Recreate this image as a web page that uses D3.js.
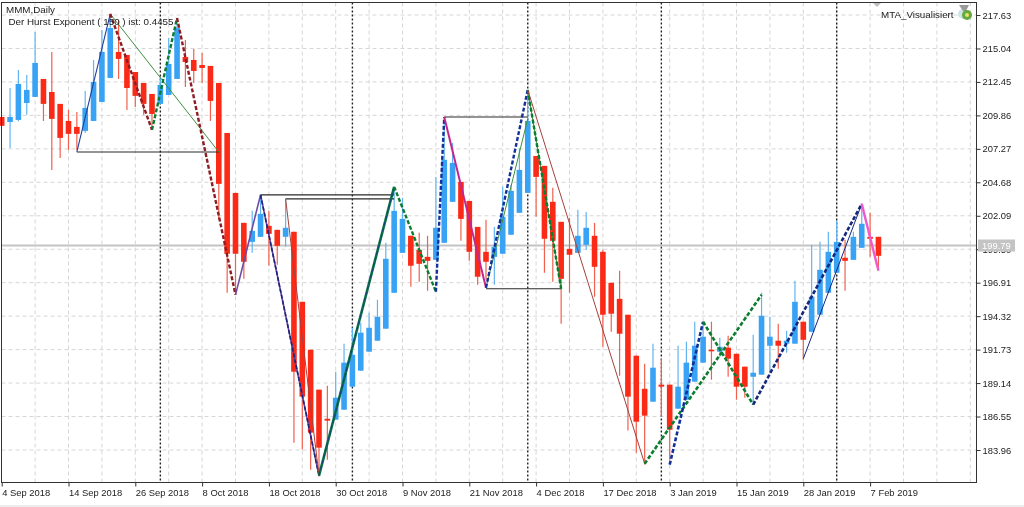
<!DOCTYPE html>
<html>
<head>
<meta charset="utf-8">
<style>
  html, body { margin: 0; padding: 0; background: #fff; }
  svg { display: block; filter: blur(0.35px); }
  text { font-family: "Liberation Sans", sans-serif; fill: #222; }
  .axis text { font-size: 9.4px; }
  .axis path { display: none; }
  .axis line { stroke: #333; }
</style>
<script src="https://cdn.jsdelivr.net/npm/d3@7"></script>
</head>
<body>
<div id="chart"></div>
<script>
// Daily candles, one entry per bar
const opens = [209.74,209.35,209.51,210.82,211.29,212.68,211.67,210.75,209.43,208.97,208.66,209.43,210.90,212.76,214.77,214.54,213.22,212.37,211.52,210.75,211.44,212.68,214.38,214.15,213.76,213.69,212.37,208.50,203.86,201.54,200.07,200.46,201.31,201.00,200.46,200.85,195.43,191.72,188.63,186.38,186.31,187.08,188.86,190.10,191.57,192.42,193.35,196.13,199.22,200.54,199.45,198.91,198.68,200.00,203.17,204.71,203.24,201.23,199.30,198.91,199.15,200.62,202.32,203.86,206.72,205.95,203.17,201.62,199.53,199.22,199.84,200.54,199.30,196.90,195.66,194.43,191.26,188.70,187.70,189.02,189.02,187.16,187.85,189.25,190.72,191.72,191.57,191.88,191.41,190.41,189.63,189.79,192.03,192.42,192.19,192.19,193.89,193.11,194.43,196.13,197.68,198.84,198.68,199.61,200.46,200.46];
const highs = [209.74,211.98,213.38,212.99,216.32,212.68,214.77,210.75,210.28,210.13,211.75,214.15,216.47,217.71,217.24,214.54,213.22,212.37,211.52,212.83,215.85,217.40,215.70,215.00,214.69,213.69,212.37,208.50,203.86,201.54,202.47,203.63,202.47,201.00,203.32,200.85,195.43,191.72,188.63,188.94,190.02,192.19,193.42,193.81,194.58,195.59,200.00,204.33,203.48,200.54,200.77,200.54,205.10,209.74,207.73,204.71,203.24,201.23,201.78,201.23,204.33,204.48,207.34,211.83,206.72,205.95,204.25,201.62,201.93,202.55,202.39,201.54,199.46,196.90,197.83,194.43,191.26,190.64,192.19,191.03,189.02,192.03,192.34,193.89,193.89,193.89,192.65,192.80,191.41,190.41,192.88,196.13,194.27,193.73,193.19,197.06,193.89,199.84,200.07,200.85,201.70,200.23,200.85,203.01,202.32,200.46];
const lows = [209.05,207.34,209.40,209.90,211.29,209.43,205.64,206.57,207.19,207.19,208.50,209.43,210.90,212.76,212.68,210.28,210.51,209.90,208.74,210.75,211.44,212.68,212.06,212.37,212.37,209.43,201.78,196.13,195.97,197.21,199.22,200.46,198.22,198.30,199.69,184.53,183.99,182.44,181.90,183.21,186.31,187.08,188.86,190.10,191.57,192.42,193.35,196.13,199.22,196.59,196.98,196.28,198.68,200.00,203.17,200.15,198.60,196.75,197.13,196.75,199.15,200.62,202.32,203.86,202.01,197.68,196.98,193.73,196.13,199.22,199.45,195.82,191.95,193.11,189.71,185.46,183.75,182.83,187.70,186.54,183.21,187.16,187.85,189.25,190.72,189.40,191.18,189.63,187.85,188.01,187.62,189.79,189.94,190.25,191.49,192.19,190.95,193.11,194.43,196.13,197.68,196.28,198.68,199.61,198.91,197.91];
const closes = [209.05,209.74,212.29,211.83,213.92,210.75,209.59,208.12,208.43,208.43,210.44,212.45,214.77,216.62,214.23,211.98,211.37,210.75,209.97,212.22,213.84,216.62,213.99,213.30,213.53,210.98,204.56,199.15,199.15,198.53,200.92,202.24,200.69,199.76,201.16,190.02,188.09,185.30,184.14,186.23,188.01,190.72,191.33,193.04,193.42,194.27,198.76,202.47,201.85,198.22,198.37,198.60,201.16,206.42,206.18,201.85,199.30,197.37,198.53,199.69,202.01,204.02,205.64,209.43,205.10,200.31,200.15,197.21,199.07,200.54,201.16,198.14,194.43,194.51,192.96,188.09,186.15,186.62,190.33,188.86,185.53,188.86,190.72,192.03,192.73,191.64,191.95,191.03,188.86,188.86,189.94,194.35,192.73,192.03,192.42,195.43,192.49,195.82,197.91,199.30,200.07,198.60,200.46,201.47,200.31,198.99];

const priceTicks = [217.63,215.04,212.45,209.86,207.27,204.68,202.09,199.50,196.91,194.32,191.73,189.14,186.55,183.96];
const dateLabels = ['4 Sep 2018','14 Sep 2018','26 Sep 2018','8 Oct 2018','18 Oct 2018','30 Oct 2018','9 Nov 2018','21 Nov 2018','4 Dec 2018','17 Dec 2018','3 Jan 2019','15 Jan 2019','28 Jan 2019','7 Feb 2019'];
const monthStarts = [19,42,63,79,100]; // bar index of the first bar of each month
const lastPrice = 199.79;

// Zigzag legs as [bar index, price]
const legA = [[9,207.03],[13,217.71]];
const legB = [[13,217.71],[18,208.74]];
const legC = [[18,208.74],[21,217.40]];
const legD = [[21,217.40],[28,195.97]];
const legE = [[13,217.71],[26,207.03]];
const legF = [[28,195.97],[31,203.71]];
const legG = [[31,203.71],[38,181.98]];
const legH = [[34,203.40],[38,181.98]];
const legI = [[38,181.98],[47,204.33]];
const legJ = [[47,204.33],[52,196.21]];
const legK = [[52,196.21],[53,209.74]];
const legL = [[53,209.74],[58,196.52]];
const legM = [[58,196.52],[63,211.83]];
const legN = [[58,196.52],[63,209.60]];
const legO = [[63,211.83],[67,196.44]];
const legP = [[63,211.83],[77,182.90]];
const legQ = [[77,182.90],[91,195.97]];
const legR = [[80,182.83],[84,193.89]];
const legS = [[84,193.89],[90,187.47]];
const legT = [[90,187.47],[103,203.01]];
const legU = [[96,191.03],[103,203.01]];
const legV = [[103,203.01],[105,197.83]];

// Flat levels
const flat1 = [[9,207.03],[26,207.03]];
const flat2 = [[31,203.71],[47,203.71]];
const flat3 = [[34,203.40],[47,203.40]];
const flat4 = [[53,209.74],[63,209.74]];
const flat5 = [[58,196.44],[67,196.44]];

const width = 1024;
const height = 507;
const barStep = 8.35;
const plot = { left: 1.5, top: 2.5, right: 976.5, bottom: 482.5 };

const svg = d3.select('#chart')
    .append('svg')
    .attr('width', width)
    .attr('height', height);

// bottom strip of the window
svg.append('rect')
    .attr('x', 0).attr('y', 505)
    .attr('width', width).attr('height', 2)
    .attr('fill', '#ececec');

// Scales, the bar axis carries on past the last bar to the right edge
const lastGridBar = 116;
const xScale = d3.scaleLinear()
    .domain([0, lastGridBar])
    .range([1.7, 1.7 + lastGridBar * barStep]);
const yScale = d3.scaleLinear()
    .domain([183.96, 217.63])
    .range([450, 15]);

// Grid
const gridBars = d3.range(4, lastGridBar + 1, 4);
svg.append('g').selectAll('line')
    .data(gridBars)
    .enter().append('line')
    .attr('x1', d => xScale(d)).attr('x2', d => xScale(d))
    .attr('y1', plot.top).attr('y2', plot.bottom)
    .attr('stroke', '#d6d6d6')
    .attr('stroke-dasharray', '4,3');
svg.append('g').selectAll('line')
    .data(priceTicks)
    .enter().append('line')
    .attr('x1', plot.left).attr('x2', plot.right)
    .attr('y1', d => yScale(d)).attr('y2', d => yScale(d))
    .attr('stroke', '#d6d6d6')
    .attr('stroke-dasharray', '4,3');

// Month separators
svg.append('g').selectAll('line')
    .data(monthStarts)
    .enter().append('line')
    .attr('x1', d => xScale(d)).attr('x2', d => xScale(d))
    .attr('y1', plot.top).attr('y2', plot.bottom)
    .attr('stroke', '#222')
    .attr('stroke-width', 1.4)
    .attr('stroke-dasharray', '2,2');

// Last price line
svg.append('line')
    .attr('x1', plot.left).attr('x2', plot.right)
    .attr('y1', yScale(lastPrice)).attr('y2', yScale(lastPrice))
    .attr('stroke', '#c4c4c4')
    .attr('stroke-width', 2);

// Candles
const bars = d3.range(opens.length);
const isUp = i => closes[i] >= opens[i];
const candles = svg.append('g');
candles.selectAll('.wick')
    .data(bars)
    .enter().append('line')
    .attr('class', 'wick')
    .attr('x1', d => xScale(d)).attr('x2', d => xScale(d))
    .attr('y1', d => yScale(highs[d])).attr('y2', d => yScale(lows[d]))
    .attr('stroke', d => isUp(d) ? '#62b5f2' : '#f2604c')
    .attr('stroke-width', 1.2);
candles.selectAll('.body')
    .data(bars)
    .enter().append('rect')
    .attr('class', 'body')
    .attr('x', d => xScale(d) - 2.8)
    .attr('y', d => yScale(Math.max(opens[d], closes[d])))
    .attr('width', 5.6)
    .attr('height', d => Math.max(1.6, Math.abs(yScale(opens[d]) - yScale(closes[d]))))
    .attr('fill', d => isUp(d) ? '#38a2f4' : '#fb2a17');

// Zigzag lines
const line = d3.line().x(d => xScale(d[0])).y(d => yScale(d[1]));
function drawLeg(points, color, lineWidth, dash) {
    svg.append('path')
        .attr('d', line(points))
        .attr('fill', 'none')
        .attr('stroke', color)
        .attr('stroke-width', lineWidth)
        .attr('stroke-dasharray', dash || null);
}

[flat1, flat2, flat3, flat4, flat5].forEach(d => drawLeg(d, '#2a2a2a', 1.1));

const thick = '4,2';
drawLeg(legA, '#1f3f9e', 1.1);
drawLeg(legE, '#3f8f3f', 1);
drawLeg(legB, '#8e1c22', 2.4, thick);
drawLeg(legC, '#0b7d2e', 2.4, thick);
drawLeg(legD, '#8e1c22', 2.4, thick);
drawLeg(legF, '#6f4aa5', 1.6);
drawLeg(legG, '#6f3f9f', 1.6);
drawLeg(legG, '#14287e', 1.6, thick);
drawLeg(legH, '#a5403c', 1);
drawLeg(legI, '#0b7048', 2.6);
drawLeg(legI, '#14407e', 1, thick);
drawLeg(legJ, '#0b7d2e', 2.4, thick);
drawLeg(legK, '#14309a', 2.4, thick);
drawLeg(legL, '#c2278f', 2);
drawLeg(legN, '#3f8f3f', 1);
drawLeg(legM, '#14309a', 2.4, thick);
drawLeg(legO, '#3f8f3f', 1);
drawLeg(legO, '#0b7d2e', 2.4, thick);
drawLeg(legP, '#a5403c', 1);
drawLeg(legQ, '#0b7d2e', 2.6, thick);
drawLeg(legR, '#14309a', 2.6, thick);
drawLeg(legS, '#0b7d2e', 2.6, thick);
drawLeg(legT, '#14287e', 2.6, thick);
drawLeg(legU, '#14287e', 1);
drawLeg(legV, '#ee5ccc', 2.4);

// Axes
svg.append('g')
    .attr('class', 'axis')
    .attr('transform', `translate(${plot.right}, 0)`)
    .call(d3.axisRight(yScale)
        .tickValues(priceTicks)
        .tickSize(4)
        .tickPadding(2)
        .tickFormat(d3.format('.2f')));

const dateBars = dateLabels.map((d, i) => i * 8);
const xAxis = svg.append('g')
    .attr('class', 'axis')
    .attr('transform', `translate(0, ${plot.bottom})`)
    .call(d3.axisBottom(xScale)
        .tickValues(dateBars)
        .tickSize(4)
        .tickPadding(3)
        .tickFormat((d, i) => dateLabels[i]));
xAxis.selectAll('text')
    .attr('text-anchor', 'start');

// Frame
svg.append('rect')
    .attr('x', plot.left).attr('y', plot.top)
    .attr('width', plot.right - plot.left)
    .attr('height', plot.bottom - plot.top)
    .attr('fill', 'none')
    .attr('stroke', '#333');

// Last price tag
svg.append('rect')
    .attr('x', 978).attr('y', yScale(lastPrice) - 6)
    .attr('width', 37).attr('height', 12)
    .attr('fill', '#c4c4c4');
svg.append('text')
    .attr('x', 982).attr('y', yScale(lastPrice) + 3.5)
    .style('font-size', '9.4px')
    .style('fill', '#fff')
    .text(d3.format('.2f')(lastPrice));

// Labels
svg.append('text').attr('x', 6).attr('y', 13)
    .style('font-size', '9.8px')
    .text('MMM,Daily');
svg.append('text').attr('x', 8.5).attr('y', 25)
    .style('font-size', '9.8px')
    .text('Der Hurst Exponent ( 150 ) ist: 0.4455');
svg.append('text').attr('x', 881).attr('y', 18)
    .style('font-size', '9.8px')
    .text('MTA_Visualisiert');

// Expert icon in the corner
svg.append('path')
    .attr('d', 'M873,3 L881,3 L877,7 Z')
    .attr('fill', '#bdbdbd');
const icon = svg.append('g').attr('transform', 'translate(966, 13)');
icon.append('circle').attr('cx', -3).attr('cy', 1).attr('r', 5).attr('fill', '#cfe3ea');
icon.append('path').attr('d', 'M-7,-8 L3,-8 L0,-2 L-3,-2 Z').attr('fill', '#9a9a9a');
icon.append('circle').attr('cx', 1).attr('cy', 2).attr('r', 5).attr('fill', '#63a93c');
icon.append('circle').attr('cx', 1).attr('cy', 2).attr('r', 2).attr('fill', '#e8e070');
</script>
</body>
</html>
